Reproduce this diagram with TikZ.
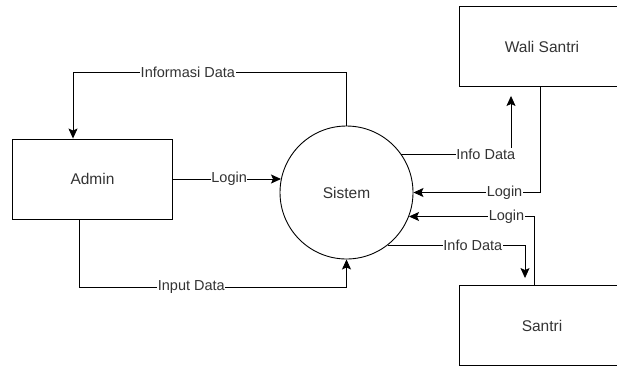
\documentclass[tikz,border=0pt]{standalone}
\usepackage{fontspec}
\setmainfont{Liberation Sans}
\usepackage{xcolor}
\usepackage{tikz}
\usetikzlibrary{arrows.meta}
\definecolor{textgray}{RGB}{51, 51, 51}

\begin{document}
\begin{tikzpicture}[x=1pt, y=-1pt, line width=0.9pt,
            entity/.style = {
                draw=black,
                text=textgray,
                minimum width=160pt,
                minimum height=80pt,
                font=\fontsize{15.5}{18}\selectfont,
                },
            process/.style = {
                circle,
                draw=black,
                text=textgray,
                inner sep=0pt,
                minimum size=133pt,
                font=\fontsize{15.5}{18}\selectfont},
            flow/.style = {-{Stealth[length=10pt,width=9pt,inset=2pt]}},
            flowlabel/.style = {
                fill=white,
                text=textgray,
                inner sep=0.6pt,
                font=\fontsize{14.5}{17}\selectfont}]
            \useasboundingbox (0,0) rectangle (617,368);
            \clip (0,0) rectangle (617,368);
            \node[entity] (admin) at (92.5,179) {Admin};
            \node[process] (sistem) at (346.5,192.5) {Sistem};
            \node[entity, minimum width=166pt] (wali) at (542,46.5) {Wali Santri};
            \node[entity, minimum width=166pt] (santri) at (542,325.5) {Santri};

            \draw[flow] (sistem.north) -- ++(0,-53) -| node[flowlabel, pos=0.29] {Informasi Data} ([xshift=-19.5pt]admin.north);
            \draw[flow] (admin.east) -- node[flowlabel, pos=0.52] {Login} (admin.east -| sistem.168);
            \draw[flow] ([xshift=-13.5pt]admin.south) -- ++(0,68) -| node[flowlabel, pos=0.21] {Input Data} (sistem.south);

            \draw[flow, shorten >=9pt] (sistem.35) -| node[flowlabel, pos=0.385] {Info Data} ([xshift=-31pt]wali.south);
            \draw[flow] ([xshift=-2pt]wali.south) |- node[flowlabel, pos=0.64] {Login} (sistem.east);
            \draw[flow] ([xshift=-8pt]santri.north) |- node[flowlabel, pos=0.61] {Login} (sistem.-21);
            \draw[flow, shorten >=7pt] (sistem.-52) -| node[flowlabel, pos=0.31] {Info Data} ([xshift=-17pt]santri.north);
\end{tikzpicture}
\end{document}
